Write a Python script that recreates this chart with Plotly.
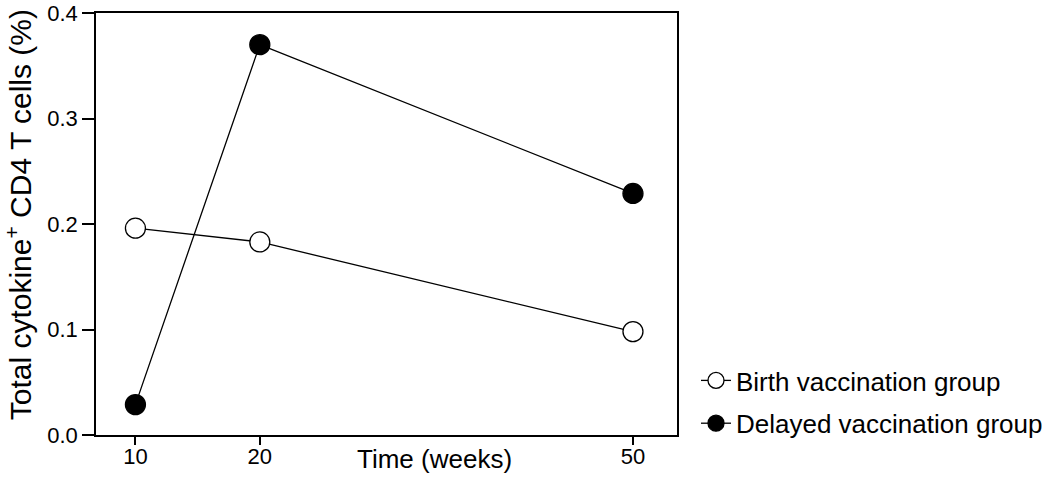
import plotly.graph_objects as go

weeks = [10, 20, 50]
birth_group = [0.196, 0.183, 0.098]
delayed_group = [0.0288, 0.370, 0.229]
y_ticks = [0.0, 0.1, 0.2, 0.3, 0.4]
y_tick_labels = ["0.0", "0.1", "0.2", "0.3", "0.4"]
series_names = ["Birth vaccination group", "Delayed vaccination group"]
x_title = "Time (weeks)"
y_title = "Total cytokine<sup>+</sup> CD4 T cells (%)"

FONT = "Liberation Sans, Arial, Helvetica, sans-serif"
W, H = 1050, 481

fig = go.Figure()
fig.add_trace(go.Scatter(
    x=weeks, y=birth_group, name=series_names[0], mode="lines+markers",
    legendgroup="birth",
    line=dict(color="black", width=1.3),
    marker=dict(symbol="circle", size=20, color="white", line=dict(color="black", width=1.3)),
))
fig.add_trace(go.Scatter(
    x=weeks, y=delayed_group, name=series_names[1], mode="lines+markers",
    legendgroup="delayed",
    line=dict(color="black", width=1.3),
    marker=dict(symbol="circle", size=20, color="black", line=dict(color="black", width=1.3)),
))

fig.update_layout(
    width=W, height=H,
    margin=dict(l=96, r=373, t=12.5, b=45.5, autoexpand=False),
    paper_bgcolor="white", plot_bgcolor="white",
    font=dict(family=FONT, color="black"),
    showlegend=True,
    legend=dict(
        xref="container", yref="container",
        x=696 / W, y=1 - 357 / H, xanchor="left", yanchor="top",
        font=dict(size=26, family=FONT, color="black"),
        bgcolor="rgba(0,0,0,0)", borderwidth=0,
        tracegroupgap=6,
    ),
    xaxis=dict(
        range=[6.83, 53.54], tickvals=weeks, ticktext=[str(w) for w in weeks],
        ticks="outside", ticklen=8, tickwidth=1.5, tickcolor="black",
        showline=True, linecolor="black", linewidth=1.5, mirror=True,
        showgrid=False, zeroline=False, automargin=False,
        ticklabeloverflow="allow", ticklabelstandoff=-7,
        tickfont=dict(size=22, family=FONT, color="black"),
    ),
    yaxis=dict(
        range=[0, 0.4], tickvals=y_ticks, ticktext=y_tick_labels,
        ticks="outside", ticklen=12, tickwidth=1.5, tickcolor="black",
        showline=True, linecolor="black", linewidth=1.5, mirror=True,
        showgrid=False, zeroline=False, automargin=False,
        ticklabeloverflow="allow",
        tickfont=dict(size=22, family=FONT, color="black"),
    ),
)

fig.add_annotation(
    text=x_title, xref="paper", yref="paper",
    x=0.583, y=-0.056, xanchor="center", yanchor="middle",
    showarrow=False, font=dict(size=26, family=FONT, color="black"),
)
fig.add_annotation(
    text=y_title, xref="paper", yref="paper", textangle=-90,
    x=-0.1333, y=0.522, xanchor="center", yanchor="middle",
    showarrow=False, font=dict(size=30, family=FONT, color="black"),
)

fig.write_html("out.html", config={"displayModeBar": False},
               post_script="document.body.style.margin='0';document.body.style.padding='0';")
